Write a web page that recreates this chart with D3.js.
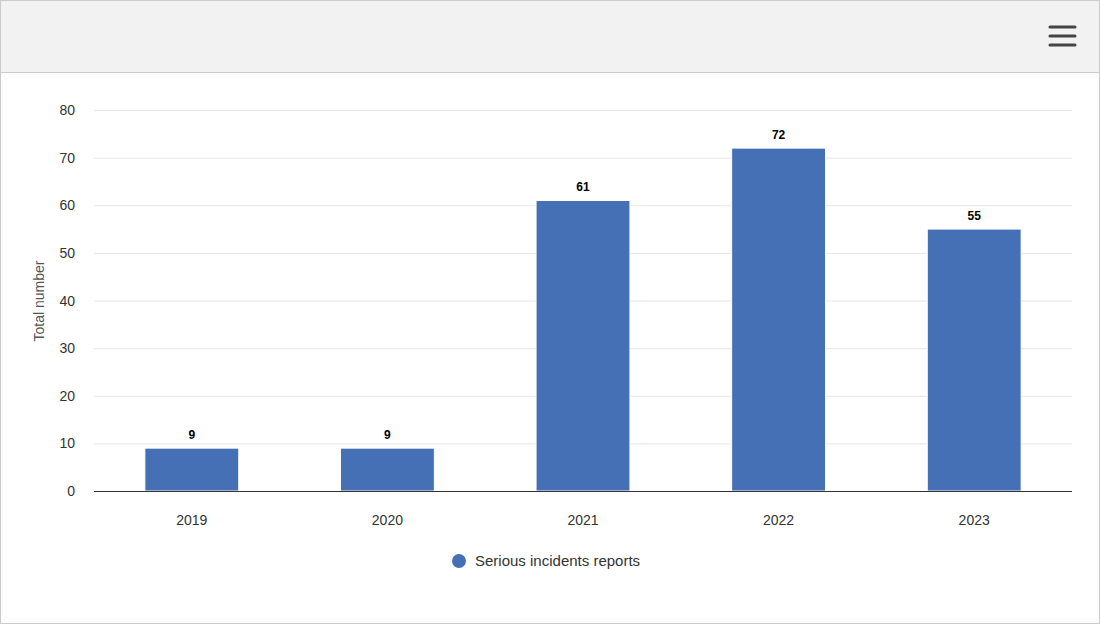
<!DOCTYPE html>
<html><head><meta charset="utf-8">
<script src="https://cdn.jsdelivr.net/npm/d3@7"></script>
<style>
body{margin:0;font-family:Arial,"Liberation Sans",sans-serif;}
</style></head>
<body>
<svg id="chart" width="1100" height="625"></svg>
<script>
const years = ["2019", "2020", "2021", "2022", "2023"];
const reports = [9, 9, 61, 72, 55];
const yTicks = [0, 10, 20, 30, 40, 50, 60, 70, 80];
const seriesName = "Serious incidents reports";

const svg = d3.select("#chart");
const W = 1100, H = 625;

// frame + header bar
svg.append("rect").attr("x", 0.5).attr("y", 0.5).attr("width", W - 1).attr("height", H - 2)
  .attr("fill", "#fff").attr("stroke", "#ccc");
svg.append("rect").attr("x", 1).attr("y", 1).attr("width", W - 2).attr("height", 71).attr("fill", "#f2f2f2");
svg.append("line").attr("x1", 1).attr("x2", W - 1).attr("y1", 72.5).attr("y2", 72.5).attr("stroke", "#ccc");
[27, 36, 45].forEach(y => svg.append("line").attr("x1", 1050).attr("x2", 1075).attr("y1", y).attr("y2", y)
  .attr("stroke", "#444").attr("stroke-width", 3).attr("stroke-linecap", "round"));

const x = d3.scaleBand().domain(years).range([94, 1072]).paddingInner(0.52).paddingOuter(0.26);
const y = d3.scaleLinear().domain([0, 80]).range([491, 110]);

// grid
svg.append("g").selectAll("line").data(yTicks.slice(1)).join("line")
  .attr("x1", 94).attr("x2", 1072).attr("y1", d => y(d) + 0.5).attr("y2", d => y(d) + 0.5)
  .attr("stroke", "#e6e6e6");

svg.append("g").selectAll("text").data(yTicks).join("text")
  .attr("x", 75).attr("y", d => y(d) + 5).attr("text-anchor", "end")
  .attr("font-size", 14).attr("fill", "#333").text(d => d);

svg.append("text").attr("transform", "translate(44,301) rotate(-90)")
  .attr("text-anchor", "middle").attr("font-size", 14).attr("fill", "#555").text("Total number");

// bars
svg.append("g").selectAll("rect").data(reports).join("rect")
  .attr("x", (d, i) => x(years[i])).attr("width", x.bandwidth())
  .attr("y", d => y(d)).attr("height", d => y(0) - y(d))
  .attr("fill", "#4570b5").attr("stroke", "#fff").attr("stroke-width", 1);

svg.append("g").selectAll("text").data(reports).join("text")
  .attr("x", (d, i) => x(years[i]) + x.bandwidth() / 2).attr("y", d => y(d) - 9)
  .attr("text-anchor", "middle").attr("font-size", 12).attr("font-weight", "bold").attr("fill", "#000")
  .text(d => d);

svg.append("line").attr("x1", 94).attr("x2", 1072).attr("y1", 491.5).attr("y2", 491.5)
  .attr("stroke", "#333");

svg.append("g").selectAll("text").data(years).join("text")
  .attr("x", d => x(d) + x.bandwidth() / 2).attr("y", 525)
  .attr("text-anchor", "middle").attr("font-size", 14).attr("fill", "#333").text(d => d);

// legend
svg.append("circle").attr("cx", 459).attr("cy", 561).attr("r", 7).attr("fill", "#4570b5");
svg.append("text").attr("x", 475).attr("y", 566).attr("font-size", 15).attr("fill", "#333").text(seriesName);
</script>
</body></html>
